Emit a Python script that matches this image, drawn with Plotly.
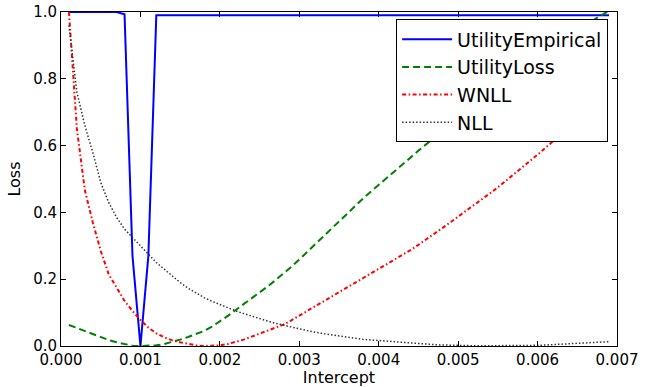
import plotly.graph_objects as go

# x grid: intercept values 0.0001 .. 0.0069
intercept = [round(i * 0.0001, 4) for i in range(1, 70)]

utility_empirical = [
    1.0, 1.0, 1.0, 1.0, 1.0, 1.0, 1.0, 0.993, 0.27, 0.0,
    0.27, 0.99, 0.99, 0.99, 0.99, 0.99, 0.99, 0.99, 0.99, 0.99,
    0.99, 0.99, 0.99, 0.99, 0.99, 0.99, 0.99, 0.99, 0.99, 0.99,
    0.99, 0.99, 0.99, 0.99, 0.99, 0.99, 0.99, 0.99, 0.99, 0.99,
    0.99, 0.99, 0.99, 0.99, 0.99, 0.99, 0.99, 0.99, 0.99, 0.99,
    0.99, 0.99, 0.99, 0.99, 0.99, 0.99, 0.99, 0.99, 0.99, 0.99,
    0.99, 0.99, 0.99, 0.99, 0.99, 0.99, 0.99, 0.99, 0.99,
]

utility_loss = [
    0.063, 0.054, 0.045, 0.035, 0.026, 0.018, 0.011, 0.005, 0.001, 0.0,
    0.0, 0.002, 0.006, 0.012, 0.019, 0.027, 0.035, 0.045, 0.058, 0.073,
    0.090, 0.108, 0.125, 0.142, 0.160, 0.178, 0.197, 0.216, 0.237, 0.259,
    0.282, 0.305, 0.329, 0.352, 0.375, 0.397, 0.420, 0.441, 0.462, 0.482,
    0.502, 0.522, 0.543, 0.564, 0.585, 0.605, 0.625, 0.644, 0.663, 0.682,
    0.700, 0.718, 0.736, 0.754, 0.772, 0.790, 0.808, 0.826, 0.844, 0.861,
    0.878, 0.895, 0.912, 0.928, 0.944, 0.960, 0.976, 0.990, 1.004,
]

wnll = [
    1.0, 0.65, 0.467, 0.37, 0.285, 0.215, 0.175, 0.135, 0.105, 0.078,
    0.055, 0.038, 0.026, 0.017, 0.011, 0.006, 0.002, 0.0, 0.0, 0.002,
    0.006, 0.012, 0.019, 0.028, 0.037, 0.047, 0.056, 0.064, 0.077, 0.091,
    0.105, 0.119, 0.133, 0.146, 0.160, 0.174, 0.187, 0.201, 0.215, 0.229,
    0.243, 0.257, 0.272, 0.287, 0.303, 0.319, 0.336, 0.353, 0.370, 0.387,
    0.404, 0.421, 0.439, 0.457, 0.475, 0.494, 0.513, 0.533, 0.553, 0.573,
    0.593, 0.613, 0.634, 0.655, 0.676, 0.698, 0.720, 0.742, 0.765,
]

nll = [
    0.96, 0.76, 0.66, 0.58, 0.49, 0.43, 0.385, 0.35, 0.325, 0.30,
    0.275, 0.25, 0.23, 0.21, 0.19, 0.173, 0.158, 0.145, 0.134, 0.124,
    0.114, 0.105, 0.097, 0.089, 0.082, 0.075, 0.068, 0.062, 0.056, 0.051,
    0.046, 0.041, 0.037, 0.033, 0.029, 0.026, 0.023, 0.020, 0.018, 0.016,
    0.014, 0.012, 0.010, 0.008, 0.006, 0.005, 0.004, 0.003, 0.002, 0.0015,
    0.001, 0.0008, 0.0006, 0.0005, 0.0005, 0.0006, 0.0008, 0.0011, 0.0015, 0.002,
    0.003, 0.004, 0.005, 0.006, 0.007, 0.008, 0.0095, 0.011, 0.013,
]

x_ticks = [0.000, 0.001, 0.002, 0.003, 0.004, 0.005, 0.006, 0.007]
x_tick_labels = ["0.000", "0.001", "0.002", "0.003", "0.004", "0.005", "0.006", "0.007"]
y_ticks = [0.0, 0.2, 0.4, 0.6, 0.8, 1.0]
y_tick_labels = ["0.0", "0.2", "0.4", "0.6", "0.8", "1.0"]

FONT = "DejaVu Sans"

fig = go.Figure()
fig.add_trace(go.Scatter(x=intercept, y=utility_empirical, mode="lines", name="UtilityEmpirical",
                         legendgroup="a", line=dict(color="#0000ff", width=2)))
fig.add_trace(go.Scatter(x=intercept, y=utility_loss, mode="lines", name="UtilityLoss",
                         legendgroup="b", line=dict(color="#008000", width=2, dash="7px,4px")))
fig.add_trace(go.Scatter(x=intercept, y=wnll, mode="lines", name="WNLL",
                         legendgroup="c", line=dict(color="#ff0000", width=2, dash="4px,2.5px,1.5px,2.5px")))
fig.add_trace(go.Scatter(x=intercept, y=nll, mode="lines", name="NLL",
                         legendgroup="d", line=dict(color="#333333", width=1.5, dash="1.5px,2px")))

axis_common = dict(
    showline=True, linecolor="black", linewidth=1, mirror="ticks",
    ticks="inside", ticklen=5, tickcolor="black", tickwidth=1,
    showgrid=False, zeroline=False, automargin=False,
    ticklabeloverflow="allow",
    tickfont=dict(family=FONT, size=15, color="black"),
)

fig.update_xaxes(range=[0, 0.007], tickvals=x_ticks, ticktext=x_tick_labels,
                 title=dict(text="Intercept", font=dict(family=FONT, size=16, color="black"), standoff=4),
                 **axis_common)
fig.update_yaxes(range=[0, 1], tickvals=y_ticks, ticktext=y_tick_labels,
                 title=dict(text="Loss", font=dict(family=FONT, size=16, color="black"), standoff=8),
                 **axis_common)

fig.update_layout(
    width=662, height=387,
    margin=dict(l=61, r=45, t=12, b=41, autoexpand=False),
    paper_bgcolor="white", plot_bgcolor="white",
    font=dict(family=FONT, color="black"),
    showlegend=True,
    legend=dict(
        x=0.984, y=0.978, xanchor="right", yanchor="top",
        bgcolor="white", bordercolor="black", borderwidth=1,
        font=dict(family=FONT, size=19, color="black"),
        itemwidth=50, tracegroupgap=5, traceorder="normal",
    ),
)

# remove the default page margin so the figure sits at the window's top-left corner
fig.write_html("out.html", config={"displayModeBar": False},
               post_script="document.body.style.margin='0px';")
